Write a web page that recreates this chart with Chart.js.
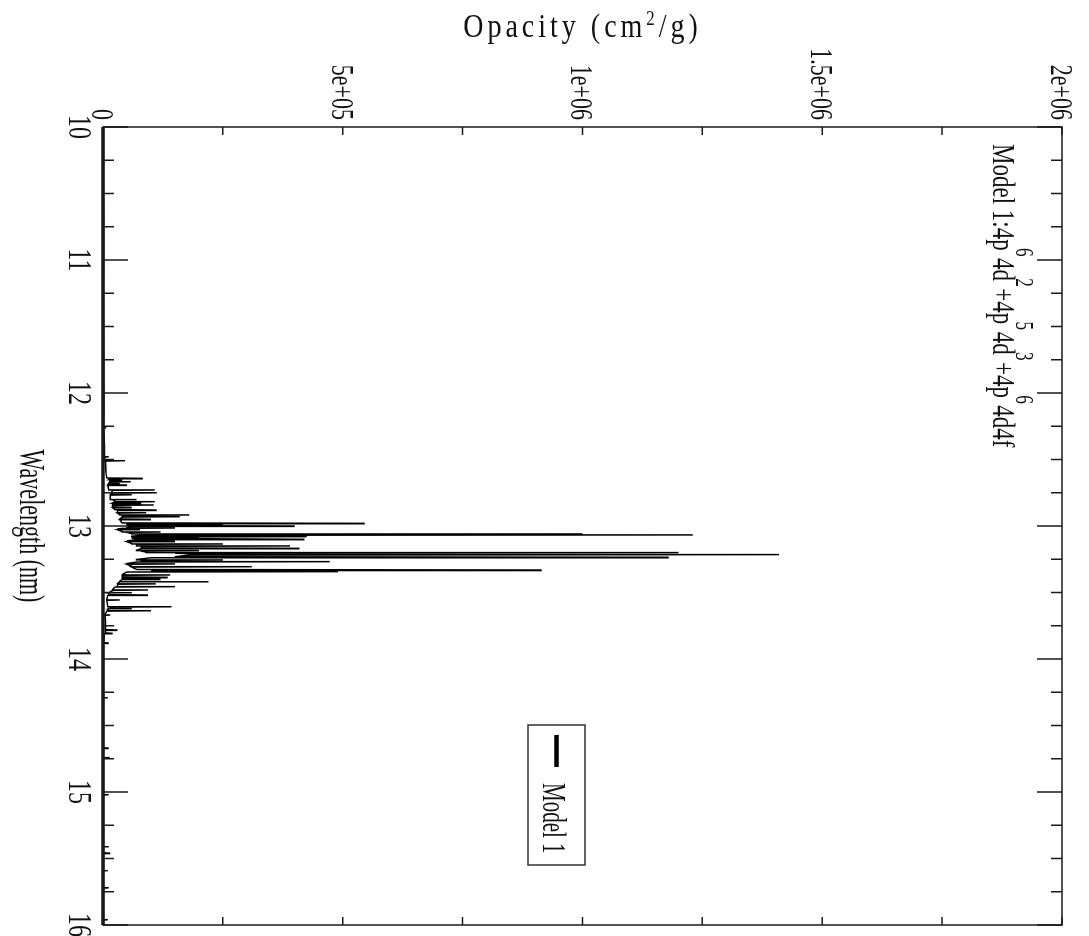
<!DOCTYPE html>
<html>
<head>
<meta charset="utf-8">
<title>Opacity spectrum</title>
<script src="https://cdn.jsdelivr.net/npm/chart.js@4.4.1/dist/chart.umd.min.js"></script>
<style>
  html, body { margin: 0; padding: 0; overflow: hidden; background: #fff; width: 1089px; height: 936px; }
  /* the plot is laid out landscape and turned a quarter clockwise */
  #wrap { position: absolute; left: 0; top: 0; width: 936px; height: 1089px;
          transform-origin: 0 0; transform: translate(1089px, 0) rotate(90deg); }
</style>
</head>
<body>
<div id="wrap"><canvas id="spectrum" width="936" height="1089"></canvas></div>
<script>
// spectrum samples, wavelength in nm and opacity in cm^2/g
const wavelengthNm = [
  10.000, 10.400, 10.850, 11.300, 11.750, 12.100, 12.257, 12.260, 12.263, 12.400,
  12.476, 12.479, 12.482, 12.506, 12.509, 12.512, 12.600, 12.639, 12.642, 12.645,
  12.652, 12.655, 12.658, 12.664, 12.667, 12.670, 12.677, 12.680, 12.683, 12.689,
  12.692, 12.695, 12.726, 12.729, 12.732, 12.747, 12.750, 12.753, 12.762, 12.765,
  12.768, 12.797, 12.800, 12.803, 12.814, 12.817, 12.820, 12.827, 12.830, 12.833,
  12.839, 12.842, 12.845, 12.857, 12.860, 12.863, 12.877, 12.880, 12.883, 12.897,
  12.900, 12.903, 12.914, 12.917, 12.920, 12.927, 12.930, 12.933, 12.947, 12.950,
  12.953, 12.977, 12.980, 12.983, 12.987, 12.990, 12.993, 12.997, 13.000, 13.003,
  13.012, 13.015, 13.018, 13.022, 13.025, 13.028, 13.042, 13.045, 13.048, 13.057,
  13.060, 13.063, 13.067, 13.070, 13.077, 13.080, 13.083, 13.087, 13.090, 13.093,
  13.097, 13.100, 13.103, 13.112, 13.115, 13.118, 13.132, 13.135, 13.138, 13.147,
  13.150, 13.153, 13.165, 13.168, 13.171, 13.182, 13.185, 13.188, 13.197, 13.200,
  13.204, 13.211, 13.215, 13.219, 13.231, 13.235, 13.239, 13.252, 13.255, 13.258,
  13.265, 13.268, 13.271, 13.282, 13.285, 13.288, 13.303, 13.306, 13.309, 13.327,
  13.331, 13.335, 13.340, 13.343, 13.346, 13.365, 13.368, 13.371, 13.383, 13.386,
  13.389, 13.397, 13.400, 13.403, 13.415, 13.418, 13.421, 13.432, 13.435, 13.438,
  13.453, 13.456, 13.459, 13.478, 13.481, 13.484, 13.497, 13.500, 13.503, 13.516,
  13.519, 13.522, 13.553, 13.556, 13.559, 13.604, 13.607, 13.610, 13.617, 13.620,
  13.623, 13.634, 13.637, 13.640, 13.666, 13.669, 13.672, 13.720, 13.779, 13.782,
  13.785, 13.804, 13.807, 13.810, 13.877, 13.880, 13.883, 14.287, 14.290, 14.293,
  14.667, 14.670, 14.673, 14.737, 14.740, 14.743, 15.017, 15.020, 15.023, 15.407,
  15.410, 15.413, 15.457, 15.460, 15.463, 15.587, 15.590, 15.593, 15.717, 15.720,
  15.723, 15.957, 15.960, 15.963, 16.000
];
const opacityCm2g = [
  1000, 1000, 1500, 1000, 1500, 2000, 1500, 7000, 1500, 3000,
  3000, 12000, 3000, 4000, 46000, 5000, 6000, 8000, 83000, 15000,
  12000, 40000, 15000, 14000, 58000, 16000, 12000, 35000, 12000, 10000,
  50000, 10000, 12000, 108000, 20000, 18000, 112000, 20000, 15000, 60000,
  15000, 15000, 70000, 20000, 25000, 108000, 25000, 20000, 80000, 20000,
  22000, 106000, 20000, 20000, 60000, 20000, 25000, 112000, 30000, 30000,
  90000, 30000, 35000, 180000, 40000, 40000, 160000, 40000, 35000, 100000,
  35000, 40000, 546000, 60000, 50000, 250000, 50000, 60000, 400000, 60000,
  50000, 150000, 40000, 30000, 77000, 30000, 40000, 120000, 50000, 60000,
  1000000, 120000, 1230000, 80000, 60000, 425000, 70000, 60000, 200000, 60000,
  60000, 420000, 70000, 50000, 150000, 50000, 60000, 250000, 70000, 70000,
  390000, 80000, 80000, 410000, 80000, 70000, 200000, 80000, 90000, 1200000,
  150000, 200000, 1410000, 180000, 150000, 1180000, 100000, 70000, 250000, 80000,
  80000, 473000, 70000, 50000, 150000, 50000, 60000, 310000, 60000, 70000,
  915000, 100000, 120000, 490000, 50000, 40000, 140000, 40000, 40000, 135000,
  40000, 40000, 120000, 40000, 35000, 220000, 35000, 30000, 110000, 30000,
  30000, 150000, 25000, 20000, 94000, 20000, 15000, 60000, 12000, 12000,
  94000, 10000, 8000, 35000, 8000, 10000, 143000, 15000, 15000, 60000,
  12000, 10000, 100000, 8000, 4000, 15000, 4000, 5000, 5000, 30000,
  5000, 5000, 20000, 3000, 1000, 12000, 1000, 1000, 10000, 1000,
  1000, 12000, 1000, 1000, 14000, 1000, 1000, 12000, 1000, 1000,
  12000, 1000, 1000, 15000, 1000, 1000, 10000, 1000, 1000, 12000,
  1000, 1000, 10000, 1000, 1000
];
const seriesName = 'Model 1';
const configRuns = [
  { t: 'Model 1:4p' }, { t: '6', sup: true }, { t: '4d' }, { t: '2', sup: true },
  { t: '+4p' }, { t: '5', sup: true }, { t: '4d' }, { t: '3', sup: true },
  { t: '+4p' }, { t: '6', sup: true }, { t: '4d4f' }
];
const opacityTitleRuns = [{ t: 'Opacity (cm' }, { t: '2', sup: true }, { t: '/g)' }];

const SERIF = '"Liberation Serif", "Times New Roman", serif';
const INK = '#111';

function isWhole(v) { return Math.abs(v - Math.round(v)) < 1e-9; }

// 5e+05 style labels
function sci(v) {
  if (v === 0) return '0';
  const parts = v.toExponential().split('e');
  const e = parseInt(parts[1], 10);
  return parts[0] + 'e' + (e < 0 ? '-' : '+') + String(Math.abs(e)).padStart(2, '0');
}

// text squeezed along its baseline (k > 1 makes glyphs taller)
function drawRuns(ctx, runs, x, y, size, k, opt) {
  opt = Object.assign({ align: 'left', angle: 0, spacing: 0, supScale: 0.65, supRise: 0.4, supAdvance: 1, supShift: 0 }, opt);
  ctx.save();
  ctx.translate(x, y);
  if (opt.angle) ctx.rotate(opt.angle);
  ctx.scale(1, k);
  ctx.fillStyle = INK;
  ctx.textBaseline = 'alphabetic';
  ctx.textAlign = 'left';
  ctx.letterSpacing = opt.spacing + 'px';
  const supSize = size * opt.supScale;
  const widths = runs.map(r => {
    ctx.font = (r.sup ? supSize : size) + 'px ' + SERIF;
    const w = ctx.measureText(r.t).width;
    return r.sup ? w * opt.supAdvance : w;
  });
  const total = widths.reduce((s, w) => s + w, 0);
  let cx = opt.align === 'center' ? -total / 2 : (opt.align === 'right' ? -total : 0);
  runs.forEach((r, i) => {
    ctx.font = (r.sup ? supSize : size) + 'px ' + SERIF;
    ctx.fillText(r.t, cx + (r.sup ? opt.supShift * size : 0), r.sup ? -opt.supRise * size : 0);
    cx += widths[i];
  });
  ctx.restore();
}

const frameAndText = {
  id: 'frameAndText',
  afterDatasetsDraw(chart) {
    const { ctx, chartArea: a, scales: { x, y } } = chart;
    ctx.save();
    ctx.strokeStyle = '#1a1a1a';
    ctx.lineWidth = 1.5;
    ctx.strokeRect(a.left, a.top, a.right - a.left, a.bottom - a.top);
    ctx.lineWidth = 3.5;
    ctx.beginPath();
    ctx.moveTo(a.left, a.bottom);
    ctx.lineTo(a.right, a.bottom);
    ctx.stroke();

    // tick marks point into the plot on all four sides
    ctx.lineWidth = 1.5;
    ctx.beginPath();
    x.ticks.forEach(t => {
      const px = x.getPixelForValue(t.value);
      const len = isWhole(t.value) ? 25 : 11;
      ctx.moveTo(px, a.bottom); ctx.lineTo(px, a.bottom - len);
      ctx.moveTo(px, a.top); ctx.lineTo(px, a.top + len);
    });
    y.ticks.forEach(t => {
      const py = y.getPixelForValue(t.value);
      ctx.moveTo(a.left, py); ctx.lineTo(a.left + 8, py);
      ctx.moveTo(a.right, py); ctx.lineTo(a.right - 8, py);
    });
    ctx.stroke();
    ctx.restore();

    // tick labels
    x.ticks.forEach(t => {
      if (!isWhole(t.value)) return;
      drawRuns(ctx, [{ t: String(Math.round(t.value)) }], x.getPixelForValue(t.value), a.bottom + 34, 24, 1.4, { align: 'center' });
    });
    y.ticks.forEach(t => {
      if (t.value % 500000 !== 0) return;
      drawRuns(ctx, [{ t: sci(t.value) }], a.left - 7, y.getPixelForValue(t.value) + 11, 22, 1.45, { align: 'right' });
    });

    // axis titles
    drawRuns(ctx, [{ t: x.options.title.text }], (a.left + a.right) / 2, a.bottom + 83, 22, 1.65, { align: 'center' });
    drawRuns(ctx, opacityTitleRuns, a.left - 90, (a.top + a.bottom) / 2, 28, 1.2,
      { align: 'center', angle: -Math.PI / 2, spacing: 4, supScale: 0.6, supRise: 0.35 });

    // configuration note
    drawRuns(ctx, configRuns, a.left + 17, a.top + 69, 23, 1.4,
      { supScale: 0.75, supRise: 0.72, supAdvance: 0.85, supShift: -0.12 });

    // legend box
    const ds = chart.data.datasets[0];
    const lx = a.left + 598, ly = a.top + 477;
    ctx.save();
    ctx.strokeStyle = '#333';
    ctx.lineWidth = 1.5;
    ctx.strokeRect(lx, ly, 140, 57);
    ctx.strokeStyle = ds.borderColor;
    ctx.lineWidth = 4.5;
    ctx.beginPath();
    ctx.moveTo(lx + 10, ly + 28.5);
    ctx.lineTo(lx + 42, ly + 28.5);
    ctx.stroke();
    ctx.restore();
    drawRuns(ctx, [{ t: ds.label }], lx + 58, ly + 42, 21, 1.6);
  }
};

new Chart(document.getElementById('spectrum'), {
  type: 'scatter',
  data: {
    datasets: [{
      label: seriesName,
      data: wavelengthNm.map((w, i) => ({ x: w, y: opacityCm2g[i] })),
      showLine: true,
      borderColor: '#000',
      borderWidth: 1.5,
      pointRadius: 0,
      tension: 0,
      clip: false
    }]
  },
  options: {
    responsive: false,
    animation: false,
    devicePixelRatio: 1,
    layout: { padding: { top: 27, right: 11, left: 0, bottom: 0 } },
    scales: {
      x: {
        type: 'linear',
        min: 10,
        max: 16,
        ticks: { stepSize: 0.25, display: false },
        grid: { display: false },
        border: { display: false },
        title: { display: false, text: 'Wavelength (nm)' },
        afterFit(scale) { scale.height = 103; }
      },
      y: {
        type: 'linear',
        min: 0,
        max: 2000000,
        ticks: { stepSize: 250000, display: false },
        grid: { display: false },
        border: { display: false },
        title: { display: false, text: 'Opacity (cm2/g)' },
        afterFit(scale) { scale.width = 127; }
      }
    },
    plugins: {
      legend: { display: false },
      tooltip: { enabled: false }
    }
  },
  plugins: [frameAndText]
});
</script>
</body>
</html>
